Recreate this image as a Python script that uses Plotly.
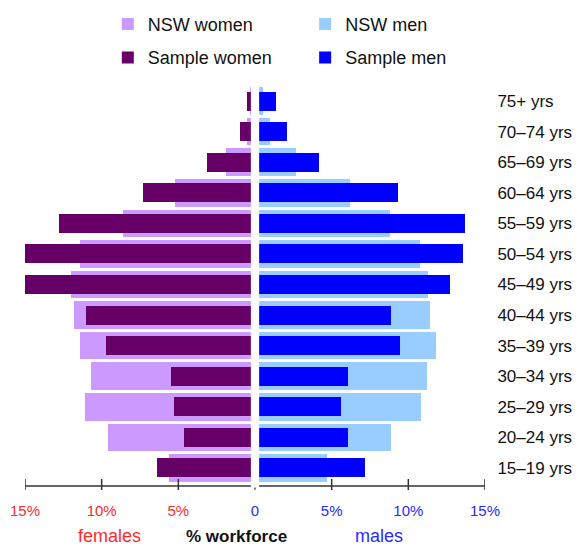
import plotly.graph_objects as go

# age groups, bottom to top
ages = ["15–19 yrs", "20–24 yrs", "25–29 yrs", "30–34 yrs", "35–39 yrs", "40–44 yrs",
        "45–49 yrs", "50–54 yrs", "55–59 yrs", "60–64 yrs", "65–69 yrs", "70–74 yrs", "75+ yrs"]

# % of workforce
nsw_women = [5.6, 9.6, 11.1, 10.7, 11.4, 11.8, 12.0, 11.4, 8.6, 5.2, 1.9, 0.55, 0.3]
sample_women = [6.4, 4.65, 5.3, 5.5, 9.7, 11.0, 15.0, 15.35, 12.8, 7.3, 3.1, 1.0, 0.55]
nsw_men = [4.7, 8.9, 10.8, 11.2, 11.8, 11.4, 11.3, 10.75, 8.8, 6.2, 2.65, 0.95, 0.55]
sample_men = [7.2, 6.05, 5.6, 6.05, 9.45, 8.85, 12.7, 13.55, 13.7, 9.3, 4.15, 2.1, 1.4]

tick_vals = [-15, -10, -5, 0, 5, 10, 15]
tick_text = ["<span style='color:#ff2a2a'>15%</span>", "<span style='color:#ff2a2a'>10%</span>",
             "<span style='color:#ff2a2a'>5%</span>", "<span style='color:#2a2aff'>0</span>",
             "<span style='color:#2a2aff'>5%</span>", "<span style='color:#2a2aff'>10%</span>",
             "<span style='color:#2a2aff'>15%</span>"]

data = [
    go.Bar(y=ages, x=[-v for v in nsw_women], orientation="h", width=0.9,
           marker=dict(color="#cc99ff", line=dict(width=0)), name="NSW women",
           legend="legend", legendgroup="a"),
    go.Bar(y=ages, x=nsw_men, orientation="h", width=0.9,
           marker=dict(color="#99ccff", line=dict(width=0)), name="NSW men",
           legend="legend2", legendgroup="c"),
    go.Bar(y=ages, x=[-v for v in sample_women], orientation="h", width=0.62,
           marker=dict(color="#660066", line=dict(width=0)), name="Sample women",
           legend="legend", legendgroup="b"),
    go.Bar(y=ages, x=sample_men, orientation="h", width=0.62,
           marker=dict(color="#0000ff", line=dict(width=0)), name="Sample men",
           legend="legend2", legendgroup="d"),
]

# white gap down the middle, then the tick marks crossing the axis line
shapes = [dict(type="rect", xref="x", yref="paper", x0=-0.27, x1=0.27, y0=-0.005, y1=1.01,
               fillcolor="white", line=dict(width=0), layer="above")]
for t in tick_vals:
    if t == 0:
        shapes.append(dict(type="line", xref="x", yref="paper", x0=0, x1=0, y0=-0.006, y1=-0.012,
                           line=dict(color="#555", width=1.5), layer="above"))
    else:
        shapes.append(dict(type="line", xref="x", yref="paper", x0=t, x1=t, y0=0.015, y1=-0.0125,
                           line=dict(color="#333", width=1.5), layer="above"))

annotations = [
    dict(text="females", x=-9.5, y=-0.128, xref="x", yref="paper", showarrow=False,
         font=dict(size=18, color="#ff2a2a"), xanchor="center", yanchor="middle"),
    dict(text="<b>% workforce</b>", x=-1.2, y=-0.128, xref="x", yref="paper", showarrow=False,
         font=dict(size=17, color="#111"), xanchor="center", yanchor="middle"),
    dict(text="males", x=8.1, y=-0.128, xref="x", yref="paper", showarrow=False,
         font=dict(size=18, color="#2a2aff"), xanchor="center", yanchor="middle"),
]

legend_style = dict(orientation="v", font=dict(size=18, color="#111"), itemwidth=30,
                    tracegroupgap=7, bgcolor="rgba(0,0,0,0)", yanchor="top", xanchor="left")

# the page body has an 8px margin, so the figure is nudged up and left to compensate
layout = go.Layout(
    width=581, height=546,
    margin=dict(l=17, r=104, t=76, b=69, autoexpand=False),
    paper_bgcolor="white", plot_bgcolor="white",
    font=dict(family="Liberation Sans, Arial, sans-serif"),
    barmode="overlay", bargap=0,
    xaxis=dict(range=[-15, 15], tickvals=tick_vals, ticktext=tick_text, showgrid=False,
               zeroline=False, showline=True, linecolor="#666", linewidth=2,
               ticks="outside", ticklen=11, tickcolor="rgba(0,0,0,0)",
               tickfont=dict(size=15), fixedrange=True, automargin=False),
    yaxis=dict(categoryorder="array", categoryarray=ages, range=[-0.56, 12.56], side="right",
               showgrid=False, zeroline=False, showline=False, ticks="outside", ticklen=8,
               tickcolor="rgba(0,0,0,0)", tickfont=dict(size=17, color="#111"), automargin=False),
    legend=dict(x=0.18, y=1.195, **legend_style),
    legend2=dict(x=0.609, y=1.195, **legend_style),
    shapes=shapes,
    annotations=annotations,
)

fig = go.Figure(data=data, layout=layout)
fig.write_html("out.html")
